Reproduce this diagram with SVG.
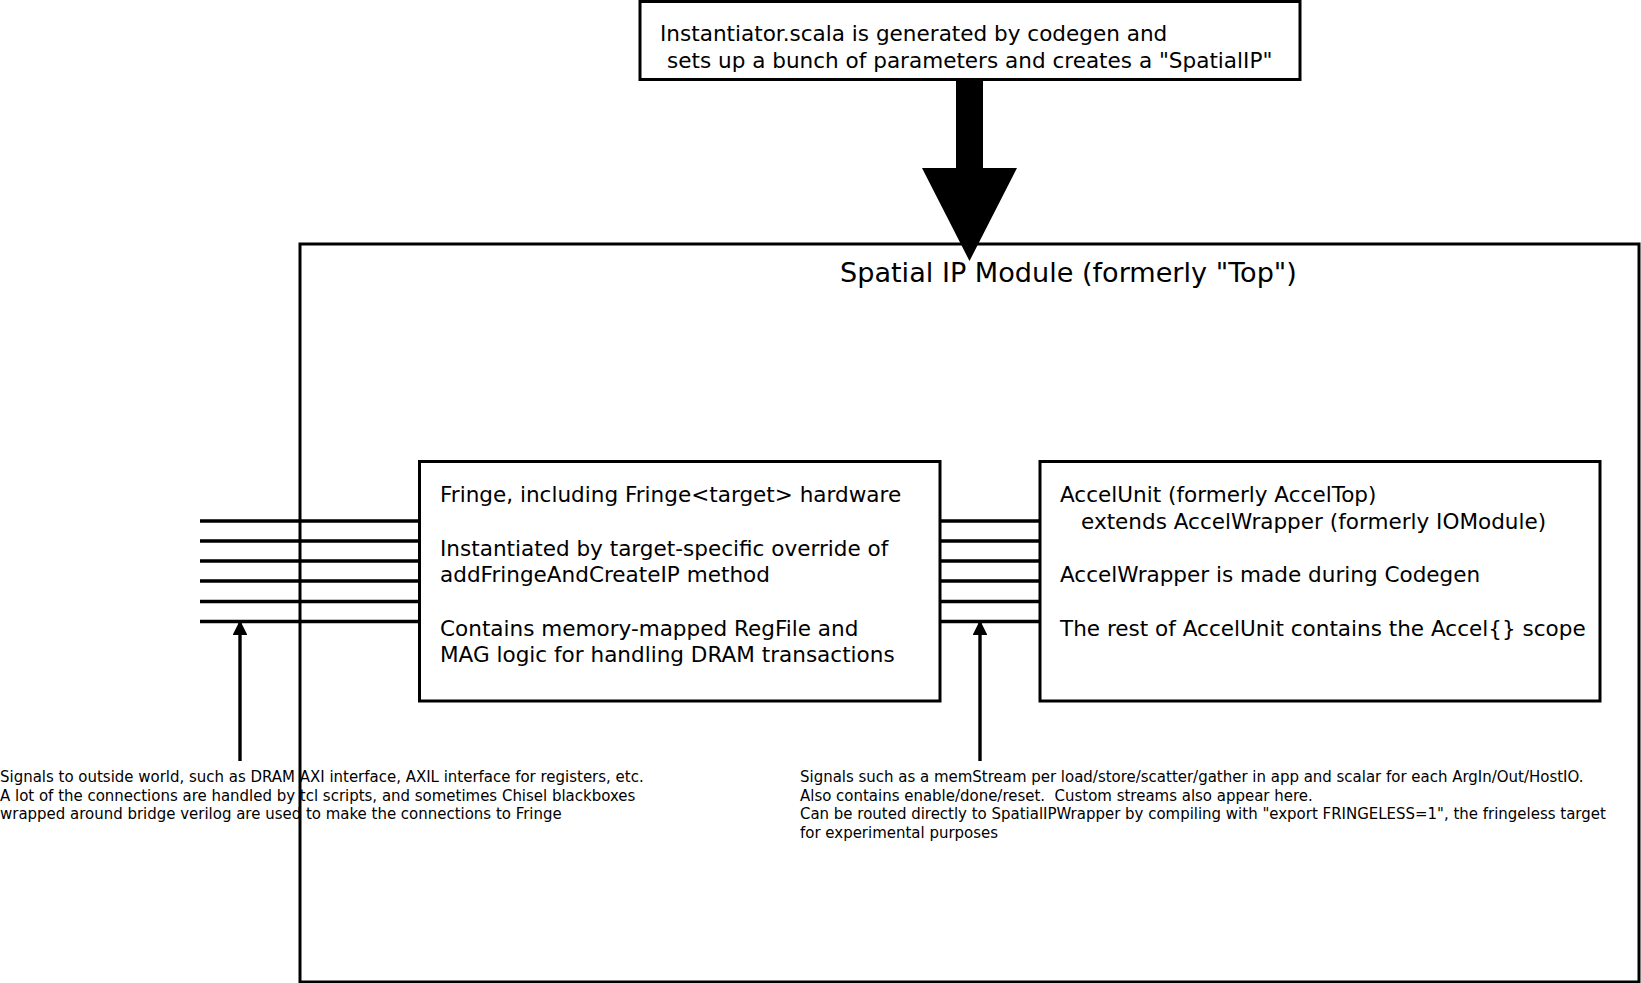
<svg xmlns="http://www.w3.org/2000/svg" width="1641" height="983" viewBox="0 0 1641 983">
<style>
.box{fill:none;stroke:#000;stroke-width:3}
.bus{stroke:#000;stroke-width:3.4;fill:none}
.ptr{stroke:#000;stroke-width:3.4;fill:none}
.t{font-family:"DejaVu Sans","Liberation Sans",sans-serif;fill:#000}
.big{font-size:21.55px}
.title{font-size:27.1px}
.small{font-size:14.98px}
</style>
<defs>
<marker id="ah" viewBox="0 0 10 10" refX="9.5" refY="5" markerWidth="4.4" markerHeight="4.4" orient="auto" markerUnits="strokeWidth">
<path d="M0,0 L10,5 L0,10 Z" fill="#000"/>
</marker>
</defs>
<rect width="1641" height="983" fill="#fff"/>

<g id="spatial-ip">
<rect class="box" x="300" y="244" width="1339" height="738"/>
<text class="t title" x="840" y="282">Spatial IP Module (formerly "Top")</text>
</g>

<g id="instantiator">
<rect class="box" x="640" y="1.5" width="660" height="78"/>
<text class="t big" x="660" y="41">Instantiator.scala is generated by codegen and</text>
<text class="t big" x="667" y="68">sets up a bunch of parameters and creates a "SpatialIP"</text>
</g>

<g id="fringe">
<rect class="box" x="419.5" y="461.5" width="520.5" height="239.5"/>
<text class="t big"><tspan x="440" y="502">Fringe, including Fringe&lt;target&gt; hardware</tspan><tspan x="440" y="555.5">Instantiated by target-specific override of</tspan><tspan x="440" y="582">addFringeAndCreateIP method</tspan><tspan x="440" y="635.5">Contains memory-mapped RegFile and</tspan><tspan x="440" y="662">MAG logic for handling DRAM transactions</tspan></text>
</g>

<g id="accelunit">
<rect class="box" x="1040" y="461.5" width="560" height="239.5"/>
<text class="t big"><tspan x="1060" y="502">AccelUnit (formerly AccelTop)</tspan><tspan x="1081" y="528.5">extends AccelWrapper (formerly IOModule)</tspan><tspan x="1060" y="582">AccelWrapper is made during Codegen</tspan><tspan x="1060" y="635.5">The rest of AccelUnit contains the Accel{} scope</tspan></text>
</g>

<g id="outside-note">
<text class="t small"><tspan x="0" y="782">Signals to outside world, such as DRAM AXI interface, AXIL interface for registers, etc.</tspan><tspan x="0" y="800.5">A lot of the connections are handled by tcl scripts, and sometimes Chisel blackboxes</tspan><tspan x="0" y="819">wrapped around bridge verilog are used to make the connections to Fringe</tspan></text>
</g>

<g id="accel-note">
<text class="t small" xml:space="preserve"><tspan x="800" y="782">Signals such as a memStream per load/store/scatter/gather in app and scalar for each ArgIn/Out/HostIO.</tspan><tspan x="800" y="800.5">Also contains enable/done/reset.  Custom streams also appear here.</tspan><tspan x="800" y="819">Can be routed directly to SpatialIPWrapper by compiling with "export FRINGELESS=1", the fringeless target</tspan><tspan x="800" y="837.5">for experimental purposes</tspan></text>
</g>

<g id="connectors">
<path d="M956,79 L983,79 L983,168 L1017,168 L969.5,261 L922,168 L956,168 Z" fill="#000"/>
<path class="bus" d="M200,521H419.5M200,541H419.5M200,561H419.5M200,581H419.5M200,601.5H419.5M200,621.5H419.5"/>
<path class="bus" d="M940,521H1040M940,541H1040M940,561H1040M940,581H1040M940,601.5H1040M940,621.5H1040"/>
<line class="ptr" x1="240" y1="761" x2="240" y2="621" marker-end="url(#ah)"/>
<line class="ptr" x1="980" y1="761" x2="980" y2="621" marker-end="url(#ah)"/>
</g>
</svg>
